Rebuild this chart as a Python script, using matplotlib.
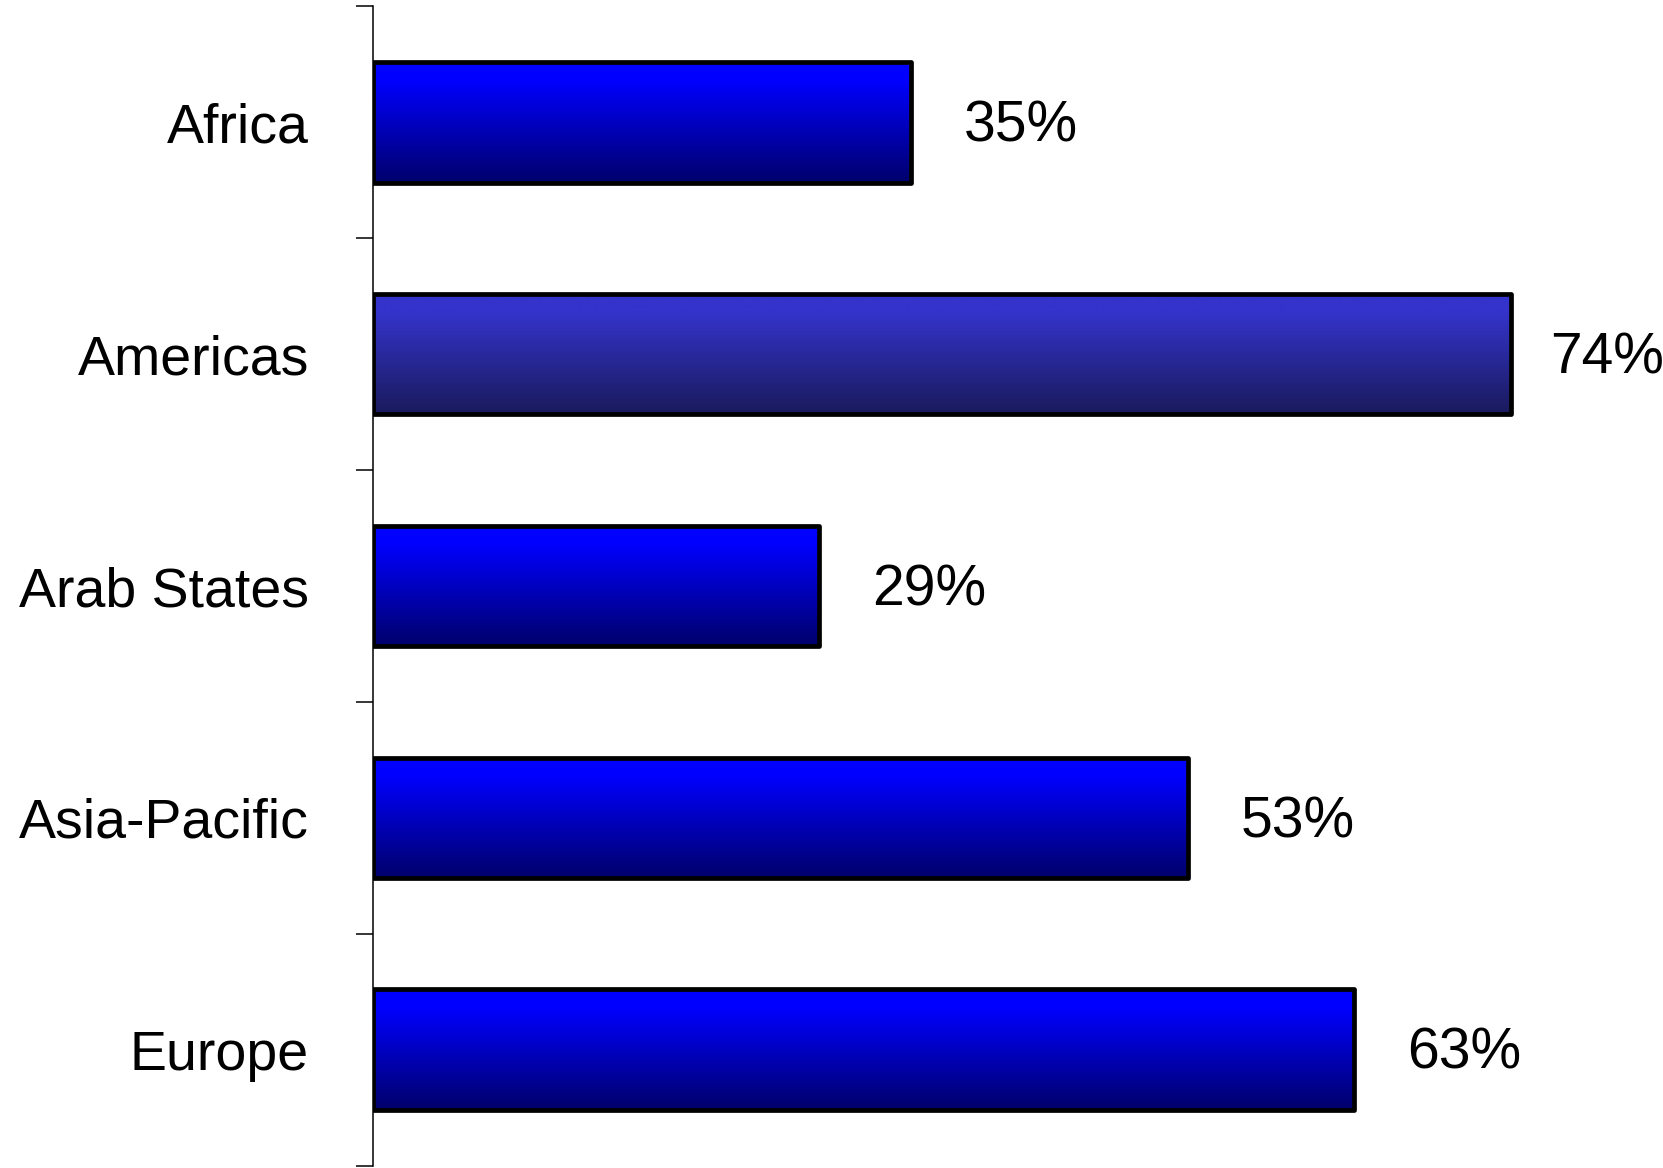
import matplotlib.pyplot as plt
import numpy as np
from matplotlib.colors import to_rgb

plt.rcParams['font.family'] = ['Liberation Sans', 'DejaVu Sans']

regions = ['Africa', 'Americas', 'Arab States', 'Asia-Pacific', 'Europe']
shares = [35, 74, 29, 53, 63.8]   # bar lengths
labels = ['35%', '74%', '29%', '53%', '63%']

# top / bottom colours of each bar's vertical gradient
top_colors = ['#0000ff', '#3434cc', '#0000ff', '#0000ff', '#0000ff']
bottom_colors = ['#00006a', '#1a1a5c', '#00006a', '#00006a', '#00006a']


def gradient(top, bottom, n=256):
    t = np.linspace(0, 1, n)[:, None]
    t = np.clip((t - 0.15) / 0.85, 0, 1)
    a, b = np.array(to_rgb(top)), np.array(to_rgb(bottom))
    return (a + (b - a) * t)[:, None, :]


fig = plt.figure(figsize=(16.63, 11.68), dpi=100)
ax = fig.add_axes([0.2243, 0.002, 0.7398, 0.9925])

n = len(regions)
ypos = np.arange(n)[::-1]
height = 0.52

bars = ax.barh(ypos, shares, height=height, facecolor='none', edgecolor='black',
               linewidth=3.4, zorder=3)
for bar, top, bottom in zip(bars, top_colors, bottom_colors):
    bar.set_joinstyle('round')
    x0, y0 = bar.get_x(), bar.get_y()
    w, h = bar.get_width(), bar.get_height()
    im = ax.imshow(gradient(top, bottom), extent=(x0, x0 + w, y0, y0 + h),
                   origin='upper', aspect='auto', zorder=2, interpolation='bilinear')
    im.set_clip_path(bar)

ax.set_xlim(0, 80)
ax.set_ylim(-0.5, n - 0.5)

for y, v, lab in zip(ypos, shares, labels):
    off = 38 if v < 70 else 28
    ax.annotate(lab, (v, y), xytext=(off, -3), textcoords='offset points',
                ha='left', va='center', fontsize=41, color='black')

for s in ['top', 'right', 'bottom']:
    ax.spines[s].set_visible(False)
ax.spines['left'].set_linewidth(1.1)
ax.set_xticks([])
ax.set_yticks(ypos)
ax.set_yticklabels(regions, fontsize=40)
ax.tick_params(axis='y', which='major', length=0, pad=46)
ax.set_yticks(np.arange(n + 1) - 0.5, minor=True)
ax.tick_params(axis='y', which='minor', length=12, width=1.1, direction='out')

fig.savefig('out.png', dpi=100, facecolor='white')
